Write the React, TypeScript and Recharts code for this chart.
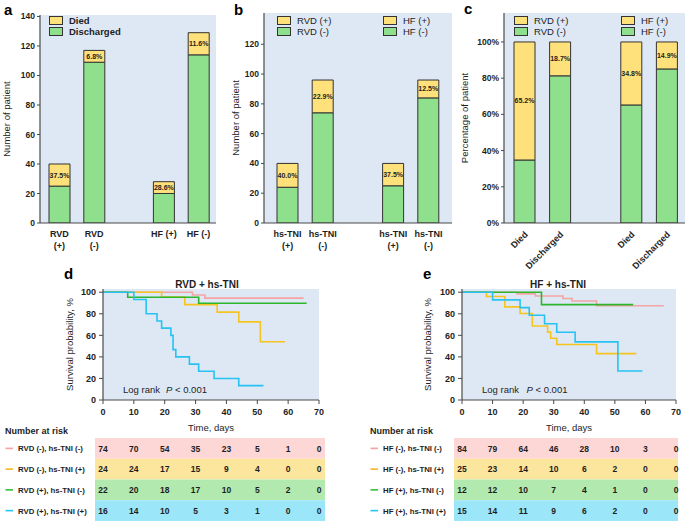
import React from 'react';
import {
  BarChart,
  Bar,
  XAxis,
  YAxis,
  CartesianGrid,
  LabelList,
  Legend,
  Label,
  LineChart,
  Line,
} from 'recharts';

const FONT = '"Liberation Sans", Arial, Helvetica, sans-serif';
const YELLOW = '#fee17a';
const GREEN = '#8ee08c';
const PLOT_BG = '#dde8f4';
const EDGE = '#333';
const AXIS = '#4a4a4a';
const INK = '#1e1e1e';

// ---- panel a: RVD / HF vs outcome ----
const ticksA = ['RVD\n(+)', 'RVD\n(-)', '', 'HF (+)', 'HF (-)'];
const dischargedA = [25, 109, null, 20, 114];
const diedA = [15, 8, null, 8, 15];
const diedPctA = ['37.5%', '6.8%', '', '28.6%', '11.6%'];

// ---- panel b: hs-TNI groups, split by RVD / HF ----
const ticksB = ['hs-TNI\n(+)', 'hs-TNI\n(-)', '', 'hs-TNI\n(+)', 'hs-TNI\n(-)'];
const negB = [24, 74, null, 25, 84]; // RVD (-) | HF (-)
const posB = [16, 22, null, 15, 12]; // RVD (+) | HF (+)
const posPctB = ['40.0%', '22.9%', '', '37.5%', '12.5%'];

// ---- panel c: share of RVD / HF by outcome ----
const ticksC = ['Died', 'Discharged', '', 'Died', 'Discharged'];
const negC = [34.8, 81.3, null, 65.2, 85.1];
const posC = [65.2, 18.7, null, 34.8, 14.9];
const posPctC = ['65.2%', '18.7%', '', '34.8%', '14.9%'];

const countTicksA = [0, 20, 40, 60, 80, 100, 120, 140];
const countTicksB = [0, 20, 40, 60, 80, 100, 120];
const pctTicks = [0, 20, 40, 60, 80, 100];

// ---- survival curves, [day, survival %] ----
const dayTicks = [0, 10, 20, 30, 40, 50, 60, 70];
const survTicks = [0, 20, 40, 60, 80, 100];

const rvdNegTniNeg = [[0, 100], [29, 97.5], [33, 94.5], [65, 94.5]];
const rvdNegTniPos = [[0, 100], [19, 95.5], [26.5, 88.5], [37, 81.5], [44, 72.5], [51, 54], [59, 54]];
const rvdPosTniNeg = [[0, 100], [8, 95.3], [31, 89.8], [66, 89.8]];
const rvdPosTniPos = [
  [0, 100], [10, 93.3], [14, 80], [17.5, 73.3], [19, 66.7], [22, 60], [22.7, 46.7],
  [23.6, 40], [28, 33.3], [31, 26.7], [36, 20], [44, 13.3], [52, 13.3],
];

const hfNegTniNeg = [[0, 100], [18, 98.5], [24, 96.5], [33, 94.2], [36, 91.8], [44, 87.5], [66, 87.5]];
const hfNegTniPos = [
  [0, 100], [8, 96], [14, 86.4], [19, 80.3], [23, 68.6], [28, 63], [29, 57.3],
  [31, 51.5], [44, 43], [57, 43],
];
const hfPosTniNeg = [[0, 100], [26, 88.5], [56, 88.5]];
const hfPosTniPos = [
  [0, 100], [10, 92.9], [19, 85.7], [22, 78.6], [27, 70.7], [31, 62.8], [37, 53.9],
  [51, 26.9], [59, 26.9],
];

const groupsD = ['RVD (-), hs-TNI (-)', 'RVD (-), hs-TNI (+)', 'RVD (+), hs-TNI (-)', 'RVD (+), hs-TNI (+)'];
const atRiskD = [
  [74, 70, 54, 35, 23, 5, 1, 0],
  [24, 24, 17, 15, 9, 4, 0, 0],
  [22, 20, 18, 17, 10, 5, 2, 0],
  [16, 14, 10, 5, 3, 1, 0, 0],
];
const groupsE = ['HF (-), hs-TNI (-)', 'HF (-), hs-TNI (+)', 'HF (+), hs-TNI (-)', 'HF (+), hs-TNI (+)'];
const atRiskE = [
  [84, 79, 64, 46, 28, 10, 3, 0],
  [25, 23, 14, 10, 6, 2, 0, 0],
  [12, 12, 10, 7, 4, 1, 0, 0],
  [15, 14, 11, 9, 6, 2, 0, 0],
];

const curveColors = ['#f5a4a4', '#f6c31f', '#2db52d', '#27c2f2'];
const rowFills = ['#fdd6d6', '#fce59c', '#b1e9af', '#9ce6f9'];
const keyStrokes = ['#f7a3a3', '#f8b625', '#35c235', '#1fc6f6'];

const toRows = (low: (number | null)[], high: (number | null)[], pct: string[]) =>
  low.map((v, i) => ({ id: i, low: v, high: high[i], pct: pct[i] }));

const toPoints = (pts: number[][]) => pts.map(([t, s]) => ({ t, s }));

const tickFont = { fontSize: 8.5, fontWeight: 700, fill: INK };

function BarTick(props: any) {
  const { x, y, payload, labels, angled } = props;
  const text: string = labels[payload.value] ?? '';
  if (angled) {
    const ax = x + 3.5;
    const ay = y + 6;
    return (
      <text x={ax} y={ay} transform={`rotate(-45 ${ax} ${ay})`} textAnchor="end" fontSize={9} fontWeight={700} fill={INK}>
        {text}
      </text>
    );
  }
  const lines = text.split('\n');
  return (
    <text x={x} y={y} textAnchor="middle" fontSize={9} fontWeight={700} fill={INK}>
      {lines.map((ln, i) => (
        <tspan key={i} x={x} dy={i === 0 ? 7.5 : 12.5}>
          {ln}
        </tspan>
      ))}
    </text>
  );
}

function Swatch({ label, fill, bold }: { label: string; fill: string; bold?: boolean }) {
  return (
    <div style={{ display: 'flex', alignItems: 'center', height: 11 }}>
      <div style={{ width: 12, height: 7, background: fill, border: `1px solid ${EDGE}` }} />
      <span style={{ marginLeft: 6, fontSize: 9.5, fontWeight: bold ? 700 : 400, color: INK, whiteSpace: 'nowrap' }}>
        {label}
      </span>
    </div>
  );
}

// "Died" sits above "Discharged" in the key
const legendA = (props: any) => {
  const items = [...(props.payload ?? [])].sort((p: any, q: any) => (p.value === 'Died' ? -1 : q.value === 'Died' ? 1 : 0));
  return (
    <div>
      {items.map((it: any) => (
        <Swatch key={it.value} label={it.value} fill={it.color} bold />
      ))}
    </div>
  );
};

const twoColumnLegend = (gap: number) => () =>
  (
    <div style={{ position: 'relative', width: gap + 60, height: 22 }}>
      <div style={{ position: 'absolute', left: 0, top: 0 }}>
        <Swatch label="RVD (+)" fill={YELLOW} />
        <Swatch label="RVD (-)" fill={GREEN} />
      </div>
      <div style={{ position: 'absolute', left: gap, top: 0 }}>
        <Swatch label="HF (+)" fill={YELLOW} />
        <Swatch label="HF (-)" fill={GREEN} />
      </div>
    </div>
  );

function StackPanel(props: any) {
  const { data, ticks, yTicks, domain, width, height, margin, yWidth, yLabel, labelOffset, padding, angled, legend, legendPos, fmt } = props;
  return (
    <BarChart width={width} height={height} data={data} margin={margin}>
      <CartesianGrid fill={PLOT_BG} horizontal={false} vertical={false} />
      <XAxis
        dataKey="id"
        height={30}
        padding={padding}
        axisLine={{ stroke: AXIS, strokeWidth: 1.2 }}
        tickLine={false}
        tickSize={4}
        tickMargin={2}
        interval={0}
        tick={(p: any) => <BarTick {...p} labels={ticks} angled={angled} />}
      />
      <YAxis
        type="number"
        domain={domain}
        ticks={yTicks}
        width={yWidth}
        allowDataOverflow
        tickFormatter={fmt}
        axisLine={{ stroke: AXIS, strokeWidth: 1.2 }}
        tickLine={{ stroke: AXIS }}
        tickSize={3}
        tickMargin={2}
        tick={tickFont}
      >
        <Label
          value={yLabel}
          angle={-90}
          position="insideLeft"
          offset={labelOffset}
          style={{ textAnchor: 'middle', fontSize: 9.5, fill: INK }}
        />
      </YAxis>
      <Legend
        layout="vertical"
        align="center"
        verticalAlign="middle"
        wrapperStyle={{ left: legendPos[0], top: legendPos[1], width: 'auto', height: 'auto' }}
        content={legend}
      />
      <Bar dataKey="low" name={props.lowName} stackId="s" fill={GREEN} stroke={EDGE} strokeWidth={1} barSize={21} isAnimationActive={false} />
      <Bar dataKey="high" name={props.highName} stackId="s" fill={YELLOW} stroke={EDGE} strokeWidth={1} barSize={21} isAnimationActive={false}>
        <LabelList dataKey="pct" position="center" fontSize={7} fontWeight={700} fill={INK} />
      </Bar>
    </BarChart>
  );
}

function SurvivalPanel(props: any) {
  const { width, marginLeft, marginRight, yWidth, labelOffset, curves } = props;
  return (
    <LineChart width={width} height={170} margin={{ top: 24, right: marginRight, bottom: 0, left: marginLeft }}>
      <CartesianGrid fill={PLOT_BG} horizontal={false} vertical={false} />
      <XAxis
        type="number"
        dataKey="t"
        domain={[0, 70]}
        ticks={dayTicks}
        height={35}
        axisLine={{ stroke: AXIS, strokeWidth: 1.2 }}
        tickLine={{ stroke: AXIS }}
        tickSize={4}
        tickMargin={5}
        tick={{ fontSize: 9, fontWeight: 700, fill: INK }}
      >
        <Label value="Time, days" position="insideBottom" offset={4} style={{ fontSize: 9.5, fill: INK }} />
      </XAxis>
      <YAxis
        type="number"
        domain={[0, 103]}
        ticks={survTicks}
        width={yWidth}
        allowDataOverflow
        axisLine={{ stroke: AXIS, strokeWidth: 1.2 }}
        tickLine={{ stroke: AXIS }}
        tickSize={4}
        tickMargin={3}
        tick={{ fontSize: 9, fontWeight: 700, fill: INK }}
      >
        <Label
          value="Survival probability, %"
          angle={-90}
          position="insideLeft"
          offset={labelOffset}
          style={{ textAnchor: 'middle', fontSize: 9.5, fill: INK }}
        />
      </YAxis>
      {curves.map((pts: number[][], i: number) => (
        <Line
          key={i}
          data={toPoints(pts)}
          dataKey="s"
          type="stepAfter"
          stroke={curveColors[i]}
          strokeWidth={1.6}
          dot={false}
          activeDot={false}
          isAnimationActive={false}
        />
      ))}
    </LineChart>
  );
}

function RiskTable(props: any) {
  const { headX, plotLeft, plotWidth, tableLeft, tableRight, labels, counts } = props;
  const rowH = 20.75;
  const step = plotWidth / 70;
  return (
    <g>
      <text x={headX} y={433.5} fontSize={9} fontWeight={700} fill={INK}>
        Number at risk
      </text>
      {counts.map((row: number[], r: number) => {
        const top = 438 + r * rowH;
        const mid = top + rowH / 2;
        return (
          <g key={r}>
            <rect x={tableLeft} y={top} width={tableRight - tableLeft} height={rowH} fill={rowFills[r]} />
            <line x1={headX + 0.5} x2={headX + 8} y1={mid} y2={mid} stroke={keyStrokes[r]} strokeWidth={1.6} />
            <text x={headX + 13} y={mid + 3} fontSize={7.8} fontWeight={700} fill={INK}>
              {labels[r]}
            </text>
            {row.map((n, i) => (
              <text key={i} x={plotLeft + dayTicks[i] * step} y={mid + 3.2} textAnchor="middle" fontSize={8.5} fontWeight={700} fill={INK}>
                {n}
              </text>
            ))}
          </g>
        );
      })}
    </g>
  );
}

export default function App() {
  const dataA = toRows(dischargedA, diedA, diedPctA);
  const dataB = toRows(negB, posB, posPctB);
  const dataC = toRows(negC, posC, posPctC);
  return (
    <div style={{ position: 'absolute', left: 0, top: 0, width: 685, height: 522, background: '#fff', fontFamily: FONT, color: INK, overflow: 'hidden' }}>
      <div style={{ position: 'absolute', left: 0, top: 0 }}>
        <StackPanel
          data={dataA}
          ticks={ticksA}
          yTicks={countTicksA}
          domain={[0, 141]}
          width={225}
          height={260}
          margin={{ top: 15, right: 9, bottom: 7, left: 9 }}
          yWidth={31}
          yLabel="Number of patient"
          labelOffset={-2}
          padding={{ left: 2, right: 0 }}
          legend={legendA}
          legendPos={[49, 15]}
          lowName="Discharged"
          highName="Died"
        />
      </div>
      <div style={{ position: 'absolute', left: 225, top: 0 }}>
        <StackPanel
          data={dataB}
          ticks={ticksB}
          yTicks={countTicksB}
          domain={[0, 141]}
          width={230}
          height={260}
          margin={{ top: 13, right: 3, bottom: 7, left: 8 }}
          yWidth={31}
          yLabel="Number of patient"
          labelOffset={2.7}
          padding={{ left: 6, right: 6 }}
          legend={twoColumnLegend(106)}
          legendPos={[52, 15]}
          lowName="(-)"
          highName="(+)"
        />
      </div>
      <div style={{ position: 'absolute', left: 450, top: 0 }}>
        <StackPanel
          data={dataC}
          ticks={ticksC}
          yTicks={pctTicks}
          domain={[0, 116]}
          width={235}
          height={270}
          margin={{ top: 13, right: 0, bottom: 17, left: 13 }}
          yWidth={41}
          yLabel="Percentage of patient"
          labelOffset={2}
          padding={{ left: 3, right: 0 }}
          angled
          fmt={(v: number) => `${v}%`}
          legend={twoColumnLegend(107)}
          legendPos={[64, 15]}
          lowName="(-)"
          highName="(+)"
        />
      </div>
      <div style={{ position: 'absolute', left: 0, top: 265 }}>
        <SurvivalPanel
          width={335}
          marginLeft={62}
          marginRight={16}
          yWidth={41}
          labelOffset={8}
          curves={[rvdNegTniNeg, rvdNegTniPos, rvdPosTniNeg, rvdPosTniPos]}
        />
      </div>
      <div style={{ position: 'absolute', left: 345, top: 265 }}>
        <SurvivalPanel
          width={340}
          marginLeft={79}
          marginRight={9}
          yWidth={38}
          labelOffset={4}
          curves={[hfNegTniNeg, hfNegTniPos, hfPosTniNeg, hfPosTniPos]}
        />
      </div>
      <svg width={685} height={522} style={{ position: 'absolute', left: 0, top: 0, pointerEvents: 'none' }}>
        <g fontSize={15} fontWeight={700} fill="#000">
          <text x={4} y={15}>a</text>
          <text x={234} y={15}>b</text>
          <text x={464} y={14}>c</text>
          <text x={64} y={279}>d</text>
          <text x={423} y={279}>e</text>
        </g>
        <text x={207} y={288} textAnchor="middle" fontSize={10} fontWeight={700} fill={INK}>RVD + hs-TNI</text>
        <text x={558} y={288} textAnchor="middle" fontSize={10} fontWeight={700} fill={INK}>HF + hs-TNI</text>
        <text x={123} y={392.5} fontSize={9.5} fill={INK}>
          Log rank<tspan x={166} fontStyle="italic">P</tspan>
          <tspan> &lt; 0.001</tspan>
        </text>
        <text x={482} y={392.5} fontSize={9.5} fill={INK}>
          Log rank<tspan x={526.5} fontStyle="italic">P</tspan>
          <tspan> &lt; 0.001</tspan>
        </text>
        <RiskTable headX={5} plotLeft={103} plotWidth={216} tableLeft={95} tableRight={325} labels={groupsD} counts={atRiskD} />
        <RiskTable headX={370} plotLeft={462} plotWidth={214} tableLeft={454} tableRight={678} labels={groupsE} counts={atRiskE} />
      </svg>
    </div>
  );
}
